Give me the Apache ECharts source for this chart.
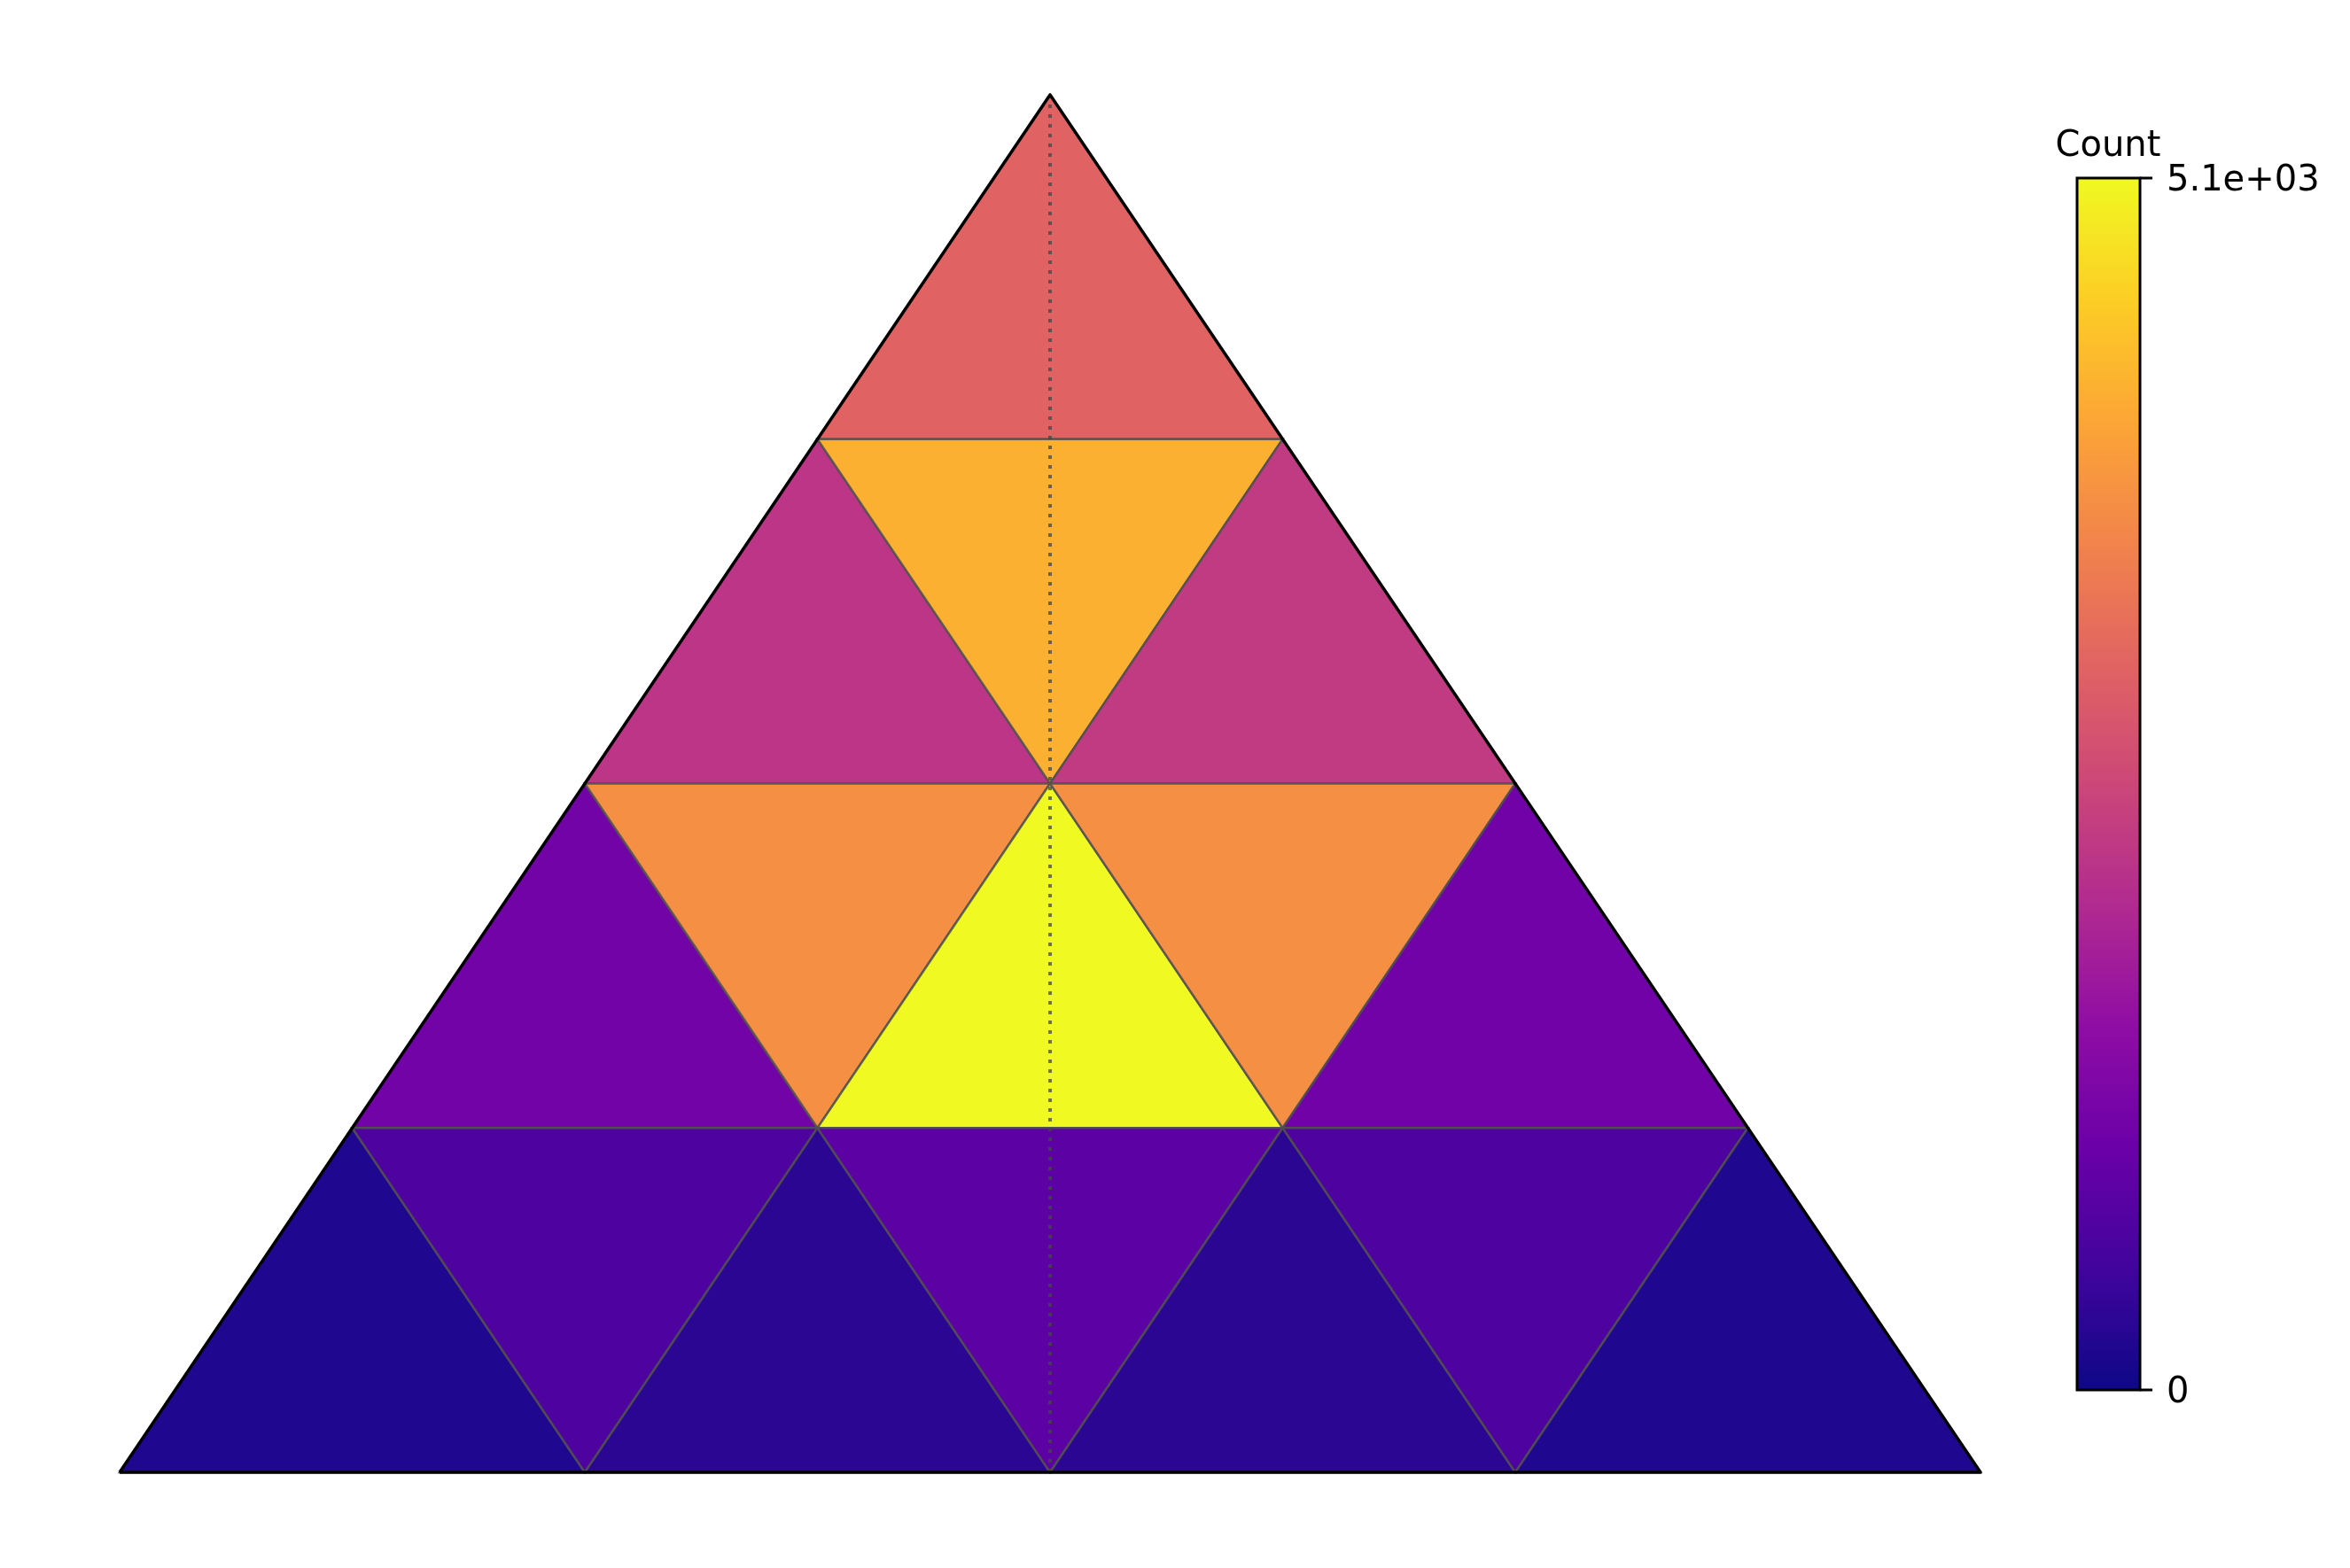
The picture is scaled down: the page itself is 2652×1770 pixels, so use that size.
<!DOCTYPE html>
<html>
<head>
<meta charset="utf-8">
<script src="https://cdn.jsdelivr.net/npm/echarts@6/dist/echarts.min.js"></script>
<style>
html,body{margin:0;padding:0;background:#fff;}
#chart{width:2652px;height:1770px;}
</style>
</head>
<body>
<div id="chart"></div>
<script>
// ---- data (rows from the apex downwards, cells left to right: up, down, up, ...) ----
const row1 = [3030];
const row2 = [2240, 4210, 2340];
const row3 = [1130, 3735, 5100, 3735, 1100];
const row4 = [190, 670, 285, 845, 285, 670, 185];
const countMin = 0;
const countMax = 5100;
const colorbarTickValues = [0, 5100];
const colorbarTickLabels = ['0', '5.1e+03'];
const colorbarTitle = 'Count';
const plasmaStops = ['#0d0887','#41049d','#6a00a8','#8f0da4','#b12a90','#cc4778','#e16462','#f2844b','#fca636','#fcce25','#f0f921'];

const rows = [row1, row2, row3, row4];
const nDiv = rows.length;
const cells = [];
rows.forEach((vals, r) => vals.forEach((v, p) => cells.push([r, p, v])));

function cellVerts(r, p) {
  const yTop = 1 - r / nDiv, yBot = 1 - (r + 1) / nDiv;
  const tx = k => (nDiv - r) / (2 * nDiv) + k / nDiv;
  const bx = k => (nDiv - 1 - r) / (2 * nDiv) + k / nDiv;
  if (p % 2 === 0) {
    const k = p / 2;
    return [[bx(k), yBot], [bx(k + 1), yBot], [tx(k), yTop]];
  } else {
    const k = (p - 1) / 2;
    return [[tx(k), yTop], [tx(k + 1), yTop], [bx(k + 1), yBot]];
  }
}

const chart = echarts.init(document.getElementById('chart'), null, {renderer: 'canvas'});
const font = 'DejaVu Sans';

const option = {
  animation: false,
  backgroundColor: '#ffffff',
  textStyle: {fontFamily: font},
  grid: [
    {left: 135, top: 107, width: 2100, height: 1555, show: false},
    {left: 2344, top: 201, width: 71, height: 1368, show: false}
  ],
  xAxis: [
    {gridIndex: 0, type: 'value', min: 0, max: 1, show: false},
    {gridIndex: 1, type: 'value', min: 0, max: 1, show: false}
  ],
  yAxis: [
    {gridIndex: 0, type: 'value', min: 0, max: 1, show: false},
    {gridIndex: 1, type: 'value', min: countMin, max: countMax, show: false}
  ],
  visualMap: {
    show: false,
    type: 'continuous',
    seriesIndex: 0,
    dimension: 2,
    min: countMin,
    max: countMax,
    inRange: {color: plasmaStops}
  },
  graphic: [
    {
      type: 'text', x: 2379, y: 166,
      style: {text: colorbarTitle, fontSize: 40, fontFamily: font, fill: '#000', textAlign: 'center', textVerticalAlign: 'middle'}
    }
  ],
  series: [
    {
      type: 'custom',
      xAxisIndex: 0, yAxisIndex: 0,
      data: cells,
      encode: {x: 0, y: 1},
      clip: false,
      z: 2,
      renderItem: (params, api) => {
        const r = api.value(0), p = api.value(1);
        const pts = cellVerts(r, p).map(pt => api.coord(pt));
        return {
          type: 'polygon',
          shape: {points: pts},
          style: {fill: api.visual('color'), stroke: 'rgba(80,80,80,0.85)', lineWidth: 2.5}
        };
      }
    },
    {
      type: 'line',
      xAxisIndex: 0, yAxisIndex: 0,
      data: [[0.5, 1], [0.5, 0]],
      symbol: 'none',
      clip: false,
      z: 3,
      lineStyle: {color: 'rgba(70,70,70,0.75)', width: 4, type: [4, 7]}
    },
    {
      type: 'line',
      xAxisIndex: 0, yAxisIndex: 0,
      data: [[0, 0], [1, 0], [0.5, 1], [0, 0]],
      symbol: 'none',
      clip: false,
      z: 4,
      lineStyle: {color: '#000', width: 3.5, join: 'round'}
    },
    {
      type: 'custom',
      xAxisIndex: 1, yAxisIndex: 1,
      data: [[0, countMin, 1, countMax]],
      encode: {x: [0, 2], y: [1, 3]},
      clip: false,
      z: 2,
      renderItem: (params, api) => {
        const p0 = api.coord([api.value(0), api.value(1)]);
        const p1 = api.coord([api.value(2), api.value(3)]);
        const stops = plasmaStops.map((c, i) => ({offset: i / (plasmaStops.length - 1), color: c}));
        return {
          type: 'rect',
          shape: {x: p0[0], y: p1[1], width: p1[0] - p0[0], height: p0[1] - p1[1]},
          style: {
            fill: new echarts.graphic.LinearGradient(0, 1, 0, 0, stops),
            stroke: '#000', lineWidth: 3
          }
        };
      }
    },
    {
      type: 'custom',
      xAxisIndex: 1, yAxisIndex: 1,
      data: colorbarTickValues.map((v, i) => [1, v, i]),
      encode: {x: 0, y: 1},
      clip: false,
      z: 3,
      renderItem: (params, api) => {
        const pt = api.coord([api.value(0), api.value(1)]);
        const label = colorbarTickLabels[api.value(2)];
        return {
          type: 'group',
          children: [
            {type: 'line', shape: {x1: pt[0], y1: pt[1], x2: pt[0] + 14, y2: pt[1]},
             style: {stroke: '#000', lineWidth: 3}},
            {type: 'text', x: pt[0] + 30, y: pt[1] + 4,
             style: {text: label, fontSize: 40, fontFamily: font, fill: '#000', textAlign: 'left', textVerticalAlign: 'middle'}}
          ]
        };
      }
    }
  ]
};
chart.setOption(option);
</script>
</body>
</html>
